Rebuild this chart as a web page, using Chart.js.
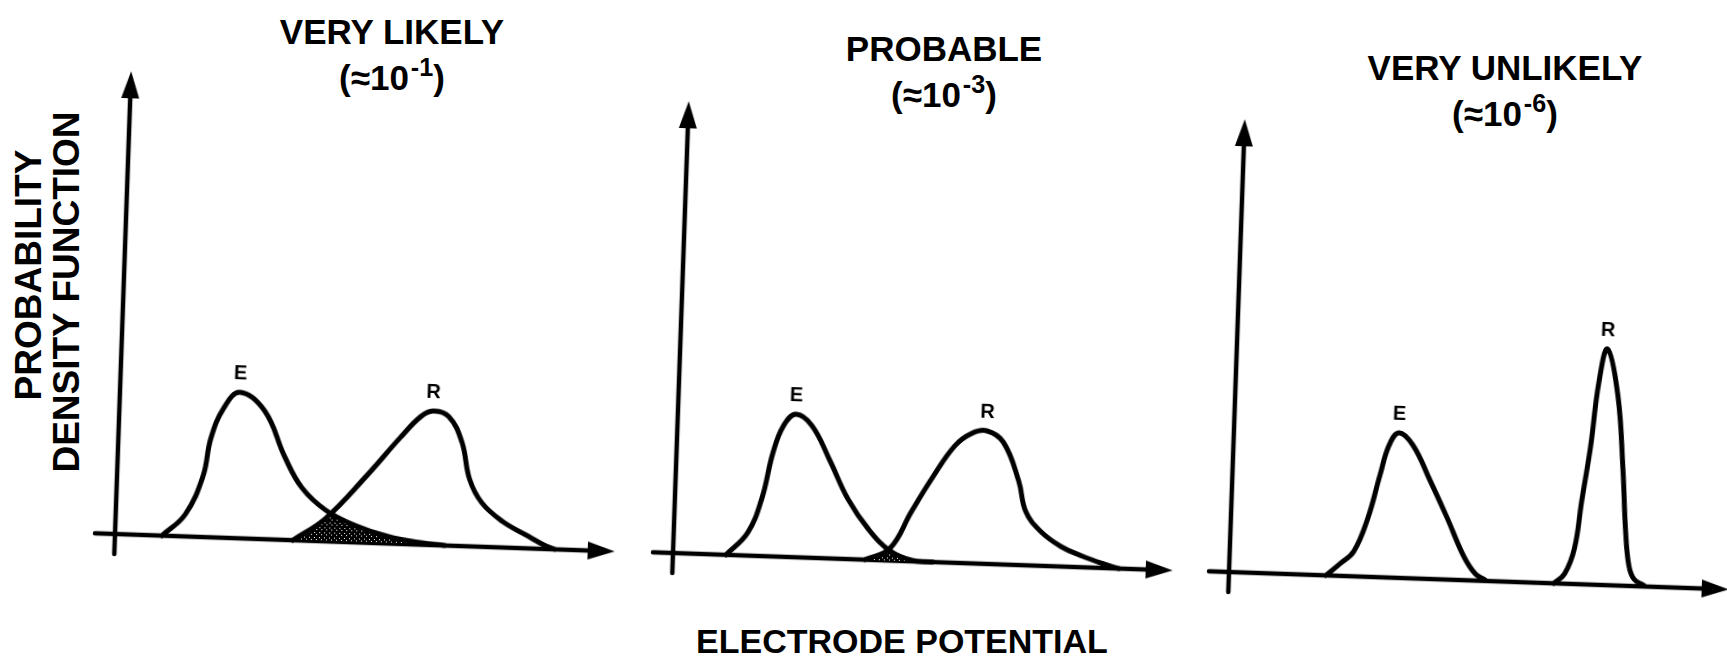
<!DOCTYPE html>
<html>
<head>
<meta charset="utf-8">
<script src="https://cdn.jsdelivr.net/npm/chart.js@4.4.1/dist/chart.umd.min.js"></script>
<style>
body { margin:0; width:1727px; height:665px; overflow:hidden; background:#fff; color:#000;
       font-family:"Liberation Sans", Arial, "DejaVu Sans", sans-serif; font-weight:bold; }
canvas { position:absolute; }
.title { position:absolute; width:400px; text-align:center; font-size:35px; line-height:46px; }
.title sup { font-size:0.72em; vertical-align:0.55em; line-height:0; margin-left:2px; }
.rot { position:absolute; width:500px; height:40px; line-height:40px; text-align:center; font-size:37px; transform:rotate(-90deg); }
#xlabel { position:absolute; left:602px; top:621px; width:600px; line-height:40px; text-align:center; font-size:34px; }
</style>
</head>
<body>
<div class="title" style="left:192px;top:9px">VERY LIKELY<br>(≈10<sup>-1</sup>)</div>
<div class="title" style="left:744px;top:26px">PROBABLE<br>(≈10<sup>-3</sup>)</div>
<div class="title" style="left:1305px;top:45px">VERY UNLIKELY<br>(≈10<sup>-6</sup>)</div>
<div class="rot" style="left:-221px;top:255px">PROBABILITY</div>
<div class="rot" style="left:-183px;top:272px">DENSITY FUNCTION</div>
<div id="xlabel">ELECTRODE POTENTIAL</div>
<script>
// PANEL 1 : VERY LIKELY //
var likelyEx = [9.4, 13.9, 17.2, 18.5, 20.9, 24, 29.1, 33.4, 37, 42, 47.9, 54.6, 61.2, 66];
var likelyEy = [0, 4.4, 12.2, 19.8, 26, 29.2, 25.6, 16.6, 10.6, 6.2, 3.4, 1.4, 0.4, 0];
var likelyRx = [35.6, 42, 49.9, 56.3, 60.3, 62.7, 65.9, 68.7, 70.5, 73.1, 77.4, 82.3, 85.8, 88];
var likelyRy = [0, 4.6, 13.4, 21.2, 25.6, 26.8, 25.8, 20.8, 13.4, 8.8, 5.2, 2.6, 0.8, 0];
var likelyOx = [35.6, 38.9, 42, 43, 47.9, 54.6, 61.2, 66];
var likelyOy = [0, 2, 4.6, 5.4, 3.4, 1.4, 0.4, 0];

// PANEL 2 : PROBABLE //
var probableEx = [10.6, 14.8, 17.4, 19.3, 21.2, 23.6, 26.9, 30.7, 34.6, 39, 43.3, 47.8, 52];
var probableEy = [0, 4.6, 11.6, 20.8, 26.2, 28.6, 26.4, 19.6, 12, 6, 2, 0.2, 0];
var probableRx = [38.4, 43.3, 47.4, 51.4, 55.6, 58.9, 61.9, 65.3, 68.6, 70.2, 73.2, 77.5, 81.9, 86.2, 89.2];
var probableRy = [0, 2.4, 10, 17, 23.4, 26, 26.6, 24.4, 16.8, 10.8, 7, 4, 2.2, 0.8, 0];
var probableOx = [38.4, 40.8, 42.7, 45.2, 48];
var probableOy = [0, 1, 1.8, 1, 0];

// PANEL 3 : VERY UNLIKELY //
var unlikelyEx = [19.4, 22.1, 24.8, 27.4, 29.5, 31.1, 33, 35.9, 39.5, 43.2, 46.8, 49.2, 51.2];
var unlikelyEy = [0, 2.4, 5, 11.8, 20.4, 26.4, 29, 26.6, 19.8, 12.4, 4.8, 1.4, 0.2];
var unlikelyRx = [65, 67.1, 68.9, 70, 71.4, 72.6, 74.1, 76.5, 78, 79, 79.9, 81, 83];
var unlikelyRy = [0, 2, 7.2, 16.6, 27.6, 40.4, 47.2, 38, 23.6, 10.8, 4, 1.4, 0.2];

// AXIS RANGES //
var potentialMin = -4;
var potentialMax = 100;
var densityMin = -4;

// GET FUNCTIONS //
toPoints = (xs, ys) => {
    var array = [];
    for (var i = 0; i < xs.length; i++) {
        array.push({x: xs[i], y: ys[i]});
    }
    return array;
}

// STIPPLE FOR THE OVERLAP //
var dots = document.createElement("canvas");
dots.width = 5; dots.height = 5;
var dctx = dots.getContext("2d");
dctx.fillStyle = "#000"; dctx.fillRect(0, 0, 5, 5);
dctx.fillStyle = "#fff"; dctx.fillRect(1, 1, 1, 1); dctx.fillRect(3, 3, 1, 1);
var stipple = dctx.createPattern(dots, "repeat");

curve = (label, xs, ys) => {
    return {data: toPoints(xs, ys), peakLabel: label, borderColor: "#000", borderWidth: 5,
            fill: false, tension: 0.4, order: 1};
}
overlap = (xs, ys) => {
    return {data: toPoints(xs, ys), borderWidth: 0, borderColor: "rgba(0,0,0,0)",
            backgroundColor: stipple, fill: "origin", tension: 0.4, order: 3};
}

// AXES WITH ARROWS //
var arrowAxes = {
    id: "arrowAxes",
    beforeDatasetsDraw: function(chart) {
        var xs = chart.scales.x, ys = chart.scales.y, ctx = chart.ctx;
        var x0 = xs.getPixelForValue(0), y0 = ys.getPixelForValue(0);
        var xEnd = xs.getPixelForValue(xs.max), yEnd = ys.getPixelForValue(ys.max);
        ctx.save();
        ctx.strokeStyle = "#000"; ctx.fillStyle = "#000"; ctx.lineWidth = 4.5; ctx.lineCap = "round";
        ctx.beginPath(); ctx.moveTo(xs.getPixelForValue(xs.min), y0); ctx.lineTo(xEnd - 20, y0); ctx.stroke();
        ctx.beginPath(); ctx.moveTo(x0, ys.getPixelForValue(ys.min)); ctx.lineTo(x0, yEnd + 20); ctx.stroke();
        ctx.beginPath(); ctx.moveTo(xEnd, y0); ctx.lineTo(xEnd - 27, y0 - 9); ctx.lineTo(xEnd - 27, y0 + 9); ctx.closePath(); ctx.fill();
        ctx.beginPath(); ctx.moveTo(x0, yEnd); ctx.lineTo(x0 - 9, yEnd + 27); ctx.lineTo(x0 + 9, yEnd + 27); ctx.closePath(); ctx.fill();
        ctx.restore();
    }
};

// E / R LABELS OVER EACH PEAK //
var peakLabels = {
    id: "peakLabels",
    afterDatasetsDraw: function(chart) {
        var ctx = chart.ctx;
        ctx.save();
        ctx.fillStyle = "#000"; ctx.font = "bold 20px 'Liberation Sans', Arial, sans-serif";
        ctx.textAlign = "center"; ctx.textBaseline = "middle";
        chart.data.datasets.forEach(function(ds) {
            if (!ds.peakLabel) return;
            var top = ds.data[0];
            ds.data.forEach(function(p) { if (p.y > top.y) top = p; });
            ctx.fillText(ds.peakLabel, chart.scales.x.getPixelForValue(top.x), chart.scales.y.getPixelForValue(top.y) - 19);
        });
        ctx.restore();
    }
};

// CREATE ONE PANEL //
makePanel = (densityMax, originX, originY, datasets) => {
    var pad = 12;
    var canvas = document.createElement("canvas");
    canvas.width = (potentialMax - potentialMin) * 5 + pad * 2;
    canvas.height = (densityMax - densityMin) * 5 + pad * 2;
    var ox = pad - potentialMin * 5, oy = pad + densityMax * 5;
    canvas.style.left = (originX - ox) + "px";
    canvas.style.top = (originY - oy) + "px";
    canvas.style.transformOrigin = ox + "px " + oy + "px";
    canvas.style.transform = "rotate(2deg)";
    document.body.appendChild(canvas);
    return new Chart(canvas, {
        type: "line",
        data: {datasets: datasets},
        options: {
            responsive: false, animation: false, events: [],
            layout: {padding: pad},
            elements: {point: {radius: 0}, line: {borderCapStyle: "round", borderJoinStyle: "round"}},
            plugins: {legend: {display: false}, tooltip: {enabled: false}},
            scales: {
                x: {type: "linear", min: potentialMin, max: potentialMax, display: false},
                y: {type: "linear", min: densityMin, max: densityMax, display: false}
            }
        },
        plugins: [arrowAxes, peakLabels]
    });
}

makePanel(92.6, 115, 534, [
    overlap(likelyOx, likelyOy),
    curve("E", likelyEx, likelyEy),
    curve("R", likelyRx, likelyRy)
]);
makePanel(90.4, 673, 553, [
    overlap(probableOx, probableOy),
    curve("E", probableEx, probableEy),
    curve("R", probableRx, probableRy)
]);
makePanel(90.6, 1229, 572, [
    curve("E", unlikelyEx, unlikelyEy),
    curve("R", unlikelyRx, unlikelyRy)
]);
</script>
</body>
</html>
